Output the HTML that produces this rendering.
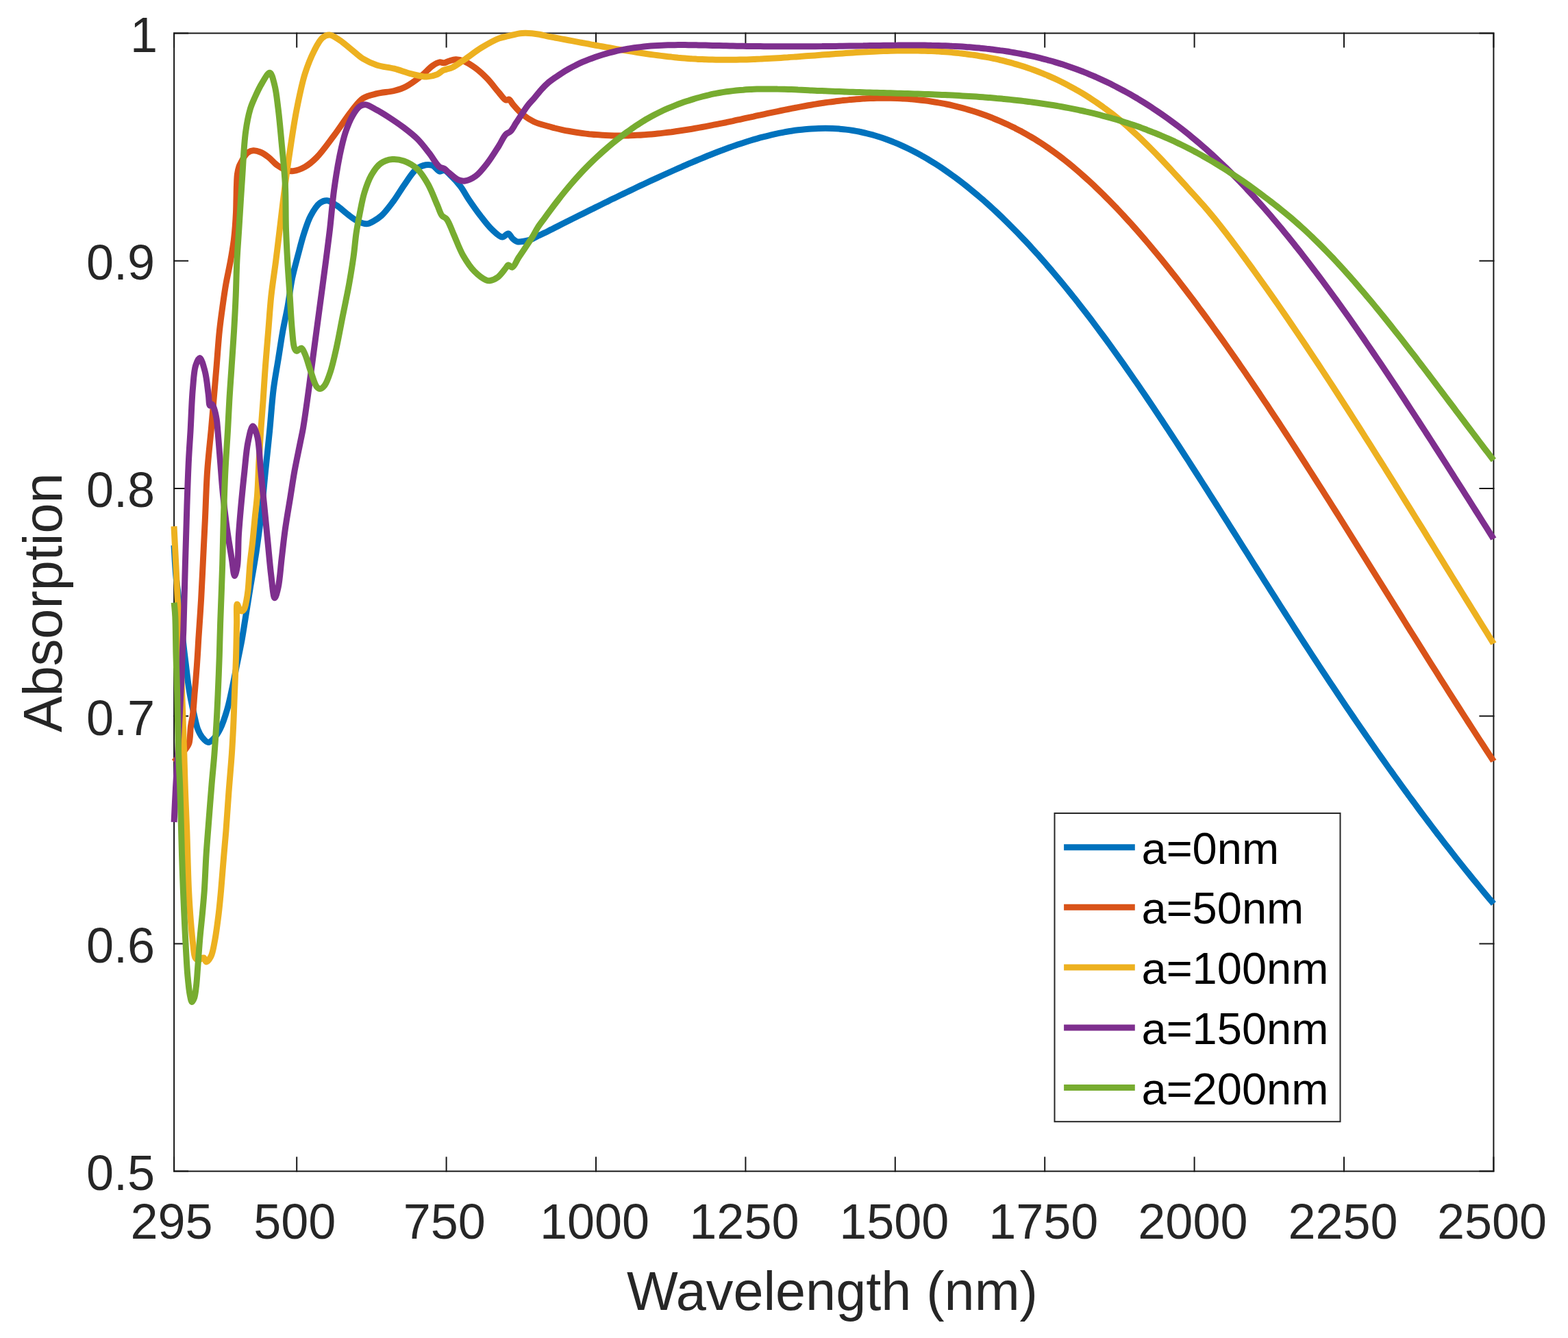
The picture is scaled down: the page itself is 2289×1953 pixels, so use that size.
<!DOCTYPE html>
<html><head><meta charset="utf-8"><title>Absorption vs Wavelength</title>
<style>html,body{margin:0;padding:0;background:#fff;}svg{display:block;}</style></head><body>
<svg xmlns="http://www.w3.org/2000/svg" width="2289" height="1953" viewBox="0 0 2289 1953">
<rect x="0" y="0" width="2289" height="1953" fill="#ffffff"/>
<g fill="none" stroke="#181818" stroke-width="2" stroke-linecap="square">
<rect x="254.1" y="48.5" width="1926.3" height="1661.1"/>
<path d="M254.1 1709.6V1689.6M254.1 48.5V68.5M433.2 1709.6V1689.6M433.2 48.5V68.5M651.6 1709.6V1689.6M651.6 48.5V68.5M870.0 1709.6V1689.6M870.0 48.5V68.5M1088.4 1709.6V1689.6M1088.4 48.5V68.5M1306.8 1709.6V1689.6M1306.8 48.5V68.5M1525.2 1709.6V1689.6M1525.2 48.5V68.5M1743.6 1709.6V1689.6M1743.6 48.5V68.5M1962.0 1709.6V1689.6M1962.0 48.5V68.5M2180.4 1709.6V1689.6M2180.4 48.5V68.5M254.1 1709.6H274.1M2180.4 1709.6H2160.4M254.1 1377.4H274.1M2180.4 1377.4H2160.4M254.1 1045.2H274.1M2180.4 1045.2H2160.4M254.1 712.9H274.1M2180.4 712.9H2160.4M254.1 380.7H274.1M2180.4 380.7H2160.4M254.1 48.5H274.1M2180.4 48.5H2160.4"/>
</g>
<g font-family="'Liberation Sans', Arial, Helvetica, sans-serif" font-size="72" fill="#262626">
<text x="250.6" y="1807.5" text-anchor="middle">295</text>
<text x="430.2" y="1807.5" text-anchor="middle">500</text>
<text x="648.8" y="1807.5" text-anchor="middle">750</text>
<text x="868.0" y="1807.5" text-anchor="middle">1000</text>
<text x="1086.4" y="1807.5" text-anchor="middle">1250</text>
<text x="1305.3" y="1807.5" text-anchor="middle">1500</text>
<text x="1523.3" y="1807.5" text-anchor="middle">1750</text>
<text x="1741.4" y="1807.5" text-anchor="middle">2000</text>
<text x="1960.5" y="1807.5" text-anchor="middle">2250</text>
<text x="2178.0" y="1807.5" text-anchor="middle">2500</text>
<text x="226.0" y="1736.9" text-anchor="end">0.5</text>
<text x="226.0" y="1404.7" text-anchor="end">0.6</text>
<text x="226.0" y="1072.5" text-anchor="end">0.7</text>
<text x="226.0" y="740.2" text-anchor="end">0.8</text>
<text x="226.0" y="408.0" text-anchor="end">0.9</text>
<text x="230.0" y="75.8" text-anchor="end">1</text>
</g>
<g font-family="'Liberation Sans', Arial, Helvetica, sans-serif" font-size="79.2" fill="#262626">
<text x="1215" y="1912" text-anchor="middle">Wavelength (nm)</text>
<text transform="translate(90.1 879.8) rotate(-90)" text-anchor="middle">Absorption</text>
</g>
<g fill="none" stroke-width="9" stroke-linejoin="round" stroke-linecap="butt">
<path stroke="#0072BD" d="M254.0 796.0C254.9 810.7 255.6 827.3 256.8 840.0C257.7 849.8 259.0 856.7 260.0 866.0C261.2 876.6 262.2 887.9 263.5 900.0C265.0 914.0 266.9 932.5 268.3 945.0C269.3 953.9 270.0 959.3 271.1 968.0C272.5 979.4 274.1 994.9 276.2 1007.5C278.1 1019.3 280.7 1031.3 283.0 1041.4C284.9 1049.7 286.2 1057.7 288.6 1064.0C290.5 1068.9 292.6 1073.1 295.4 1076.5C297.9 1079.5 301.1 1083.4 304.0 1083.5C306.8 1083.6 309.8 1080.3 312.4 1077.6C315.7 1074.2 318.6 1069.6 321.4 1064.0C325.2 1056.5 328.7 1045.6 331.6 1035.7C334.8 1025.0 337.0 1013.1 339.5 1001.8C341.9 990.5 344.0 979.2 346.3 967.9C348.6 956.6 351.0 945.2 353.1 933.9C355.1 922.6 356.7 911.9 358.6 900.0C360.8 886.7 363.0 872.4 365.4 857.6C368.1 841.4 371.3 823.7 373.9 806.7C376.4 789.8 378.6 774.0 380.7 755.8C383.2 734.8 385.3 709.6 387.5 687.9C389.5 667.8 391.6 649.7 393.5 630.0C395.5 609.6 396.9 586.4 399.3 567.6C401.3 552.0 403.8 539.3 406.1 525.1C408.4 511.0 410.5 496.0 412.9 482.7C415.1 470.7 417.5 460.8 419.7 448.8C422.1 435.5 423.8 419.7 426.5 406.4C429.0 394.4 432.1 383.6 435.0 372.4C437.9 361.5 440.7 350.0 444.0 340.0C447.0 331.0 449.5 322.4 453.6 314.9C457.4 307.9 462.4 299.7 467.2 296.2C470.5 293.8 473.8 292.5 477.4 292.8C481.7 293.1 486.4 296.6 491.0 299.6C496.5 303.1 502.6 309.2 508.0 313.2C512.7 316.7 516.8 320.2 521.5 322.5C525.8 324.6 530.9 326.9 535.0 326.8C538.6 326.7 541.6 324.8 545.0 323.0C548.9 320.9 552.9 318.4 557.0 314.7C562.5 309.7 568.4 301.6 573.9 294.3C579.8 286.4 585.1 276.9 590.9 268.8C596.4 261.1 601.9 251.5 607.9 246.8C612.3 243.4 617.2 241.5 621.5 240.8C625.0 240.2 628.4 240.4 631.6 241.7C635.2 243.2 638.6 249.5 641.8 250.2C644.2 250.7 646.2 248.0 648.6 248.5C651.8 249.2 655.3 253.6 658.8 257.0C663.2 261.2 668.2 266.7 672.4 272.2C676.7 277.9 679.8 284.4 684.2 290.9C689.3 298.4 695.4 307.2 701.2 314.7C706.7 321.8 712.3 329.5 718.2 335.0C723.1 339.6 729.0 345.9 733.4 346.1C736.6 346.2 739.4 340.6 741.9 341.0C744.5 341.4 746.3 346.6 748.7 348.6C750.8 350.4 752.9 352.2 755.5 352.8C758.5 353.5 762.2 352.6 765.7 352.0C769.5 351.3 774.2 350.0 777.6 348.6C780.4 347.4 782.3 345.9 785.0 344.5C788.1 343.0 791.7 341.5 795.0 339.9C798.3 338.3 801.7 336.5 805.0 334.9C808.3 333.2 811.7 331.5 815.0 329.9C818.3 328.2 821.7 326.5 825.0 324.8C828.3 323.2 831.7 321.5 835.0 319.8C838.3 318.2 841.7 316.5 845.0 314.8C848.3 313.2 851.7 311.5 855.0 309.9C858.3 308.2 861.7 306.5 865.0 304.9C868.3 303.2 871.7 301.6 875.0 299.9C878.3 298.3 881.7 296.7 885.0 295.0C888.3 293.4 891.7 291.8 895.0 290.1C898.3 288.5 901.7 286.9 905.0 285.3C908.3 283.7 911.7 282.1 915.0 280.5C918.3 278.9 921.7 277.3 925.0 275.7C928.3 274.1 931.7 272.5 935.0 270.9C938.3 269.4 941.7 267.8 945.0 266.2C948.3 264.7 951.7 263.1 955.0 261.6C958.3 260.1 961.7 258.5 965.0 257.0C968.3 255.5 971.7 254.0 975.0 252.5C978.3 251.0 981.7 249.5 985.0 248.0C988.3 246.5 991.7 245.0 995.0 243.6C998.3 242.1 1001.7 240.7 1005.0 239.2C1008.3 237.8 1011.7 236.4 1015.0 235.0C1018.3 233.6 1021.7 232.2 1025.0 230.8C1028.3 229.4 1031.7 228.1 1035.0 226.7C1038.3 225.4 1041.7 224.1 1045.0 222.8C1048.3 221.5 1051.7 220.2 1055.0 219.0C1058.3 217.7 1061.7 216.5 1065.0 215.3C1068.3 214.1 1071.7 212.9 1075.0 211.8C1078.3 210.7 1081.7 209.5 1085.0 208.5C1088.3 207.4 1091.7 206.3 1095.0 205.3C1098.3 204.3 1101.7 203.3 1105.0 202.4C1108.3 201.4 1111.7 200.5 1115.0 199.7C1118.3 198.8 1121.7 198.0 1125.0 197.2C1128.3 196.4 1131.7 195.6 1135.0 194.9C1138.3 194.2 1141.7 193.6 1145.0 192.9C1148.3 192.3 1151.7 191.8 1155.0 191.2C1158.3 190.7 1161.7 190.2 1165.0 189.8C1168.3 189.4 1171.7 189.0 1175.0 188.7C1178.3 188.4 1181.7 188.1 1185.0 187.9C1188.3 187.7 1191.7 187.5 1195.0 187.4C1198.3 187.3 1201.7 187.3 1205.0 187.3C1208.3 187.3 1211.7 187.4 1215.0 187.5C1218.3 187.7 1221.7 187.9 1225.0 188.1C1228.3 188.4 1231.7 188.7 1235.0 189.1C1238.3 189.5 1241.7 190.0 1245.0 190.5C1248.3 191.1 1251.7 191.7 1255.0 192.3C1258.3 193.0 1261.7 193.7 1265.0 194.6C1268.3 195.4 1271.7 196.3 1275.0 197.2C1278.3 198.2 1281.7 199.2 1285.0 200.3C1288.3 201.3 1291.7 202.5 1295.0 203.7C1298.3 204.9 1301.7 206.2 1305.0 207.6C1308.3 208.9 1311.7 210.3 1315.0 211.8C1318.3 213.3 1321.7 214.9 1325.0 216.5C1328.3 218.1 1331.7 219.8 1335.0 221.5C1338.3 223.2 1341.7 225.0 1345.0 226.9C1348.3 228.8 1351.7 230.7 1355.0 232.7C1358.3 234.7 1361.7 236.7 1365.0 238.8C1368.3 240.9 1371.7 243.1 1375.0 245.3C1378.3 247.6 1381.7 249.9 1385.0 252.2C1388.3 254.6 1391.7 257.0 1395.0 259.4C1398.3 261.9 1401.7 264.4 1405.0 267.0C1408.3 269.6 1411.7 272.2 1415.0 274.9C1418.3 277.6 1421.7 280.4 1425.0 283.2C1428.3 286.0 1431.7 288.8 1435.0 291.7C1438.3 294.7 1441.7 297.6 1445.0 300.6C1448.3 303.7 1451.7 306.8 1455.0 309.9C1458.3 313.0 1461.7 316.2 1465.0 319.4C1468.3 322.6 1471.7 325.9 1475.0 329.3C1478.3 332.6 1481.7 336.0 1485.0 339.4C1488.3 342.9 1491.7 346.3 1495.0 349.9C1498.3 353.4 1501.7 357.0 1505.0 360.6C1508.3 364.2 1511.7 367.9 1515.0 371.6C1518.3 375.4 1521.7 379.1 1525.0 382.9C1528.3 386.8 1531.7 390.6 1535.0 394.5C1538.3 398.4 1541.7 402.4 1545.0 406.4C1548.3 410.4 1551.7 414.4 1555.0 418.5C1558.3 422.6 1561.7 426.7 1565.0 430.8C1568.3 435.0 1571.7 439.2 1575.0 443.5C1578.3 447.7 1581.7 452.0 1585.0 456.3C1588.3 460.7 1591.7 465.0 1595.0 469.4C1598.3 473.9 1601.7 478.3 1605.0 482.8C1608.3 487.3 1611.7 491.8 1615.0 496.3C1618.3 500.9 1621.7 505.5 1625.0 510.1C1628.3 514.8 1631.7 519.4 1635.0 524.1C1638.3 528.8 1641.7 533.6 1645.0 538.3C1648.3 543.1 1651.7 547.9 1655.0 552.7C1658.3 557.5 1661.7 562.3 1665.0 567.2C1668.3 572.1 1671.7 577.0 1675.0 581.9C1678.3 586.8 1681.7 591.8 1685.0 596.8C1688.3 601.7 1691.7 606.7 1695.0 611.8C1698.3 616.8 1701.7 621.8 1705.0 626.9C1708.3 632.0 1711.7 637.0 1715.0 642.1C1718.3 647.2 1721.7 652.4 1725.0 657.5C1728.3 662.6 1731.7 667.8 1735.0 672.9C1738.3 678.1 1741.7 683.3 1745.0 688.5C1748.3 693.7 1751.7 698.9 1755.0 704.1C1758.3 709.3 1761.7 714.5 1765.0 719.8C1768.3 725.0 1771.7 730.2 1775.0 735.5C1778.3 740.8 1781.7 746.0 1785.0 751.3C1788.3 756.5 1791.7 761.8 1795.0 767.1C1798.3 772.4 1801.7 777.6 1805.0 782.9C1808.3 788.2 1811.7 793.5 1815.0 798.8C1818.3 804.1 1821.7 809.3 1825.0 814.6C1828.3 819.9 1831.7 825.2 1835.0 830.5C1838.3 835.7 1841.7 841.0 1845.0 846.3C1848.3 851.6 1851.7 856.8 1855.0 862.1C1858.3 867.3 1861.7 872.6 1865.0 877.8C1868.3 883.1 1871.7 888.3 1875.0 893.5C1878.3 898.7 1881.7 904.0 1885.0 909.2C1888.3 914.4 1891.7 919.5 1895.0 924.7C1898.3 929.9 1901.7 935.1 1905.0 940.2C1908.3 945.3 1911.7 950.5 1915.0 955.6C1918.3 960.7 1921.7 965.8 1925.0 970.9C1928.3 975.9 1931.7 981.0 1935.0 986.0C1938.3 991.1 1941.7 996.1 1945.0 1001.1C1948.3 1006.1 1951.7 1011.1 1955.0 1016.1C1958.3 1021.0 1961.7 1026.0 1965.0 1030.9C1968.3 1035.8 1971.7 1040.7 1975.0 1045.6C1978.3 1050.5 1981.7 1055.4 1985.0 1060.3C1988.3 1065.1 1991.7 1069.9 1995.0 1074.8C1998.3 1079.6 2001.7 1084.4 2005.0 1089.1C2008.3 1093.9 2011.7 1098.6 2015.0 1103.4C2018.3 1108.1 2021.7 1112.8 2025.0 1117.5C2028.3 1122.2 2031.7 1126.9 2035.0 1131.5C2038.3 1136.1 2041.7 1140.8 2045.0 1145.4C2048.3 1150.0 2051.7 1154.6 2055.0 1159.1C2058.3 1163.7 2061.7 1168.2 2065.0 1172.7C2068.3 1177.2 2071.7 1181.7 2075.0 1186.2C2078.3 1190.6 2081.7 1195.1 2085.0 1199.5C2088.3 1203.9 2091.7 1208.3 2095.0 1212.7C2098.3 1217.1 2101.7 1221.4 2105.0 1225.7C2108.3 1230.0 2111.7 1234.3 2115.0 1238.6C2118.3 1242.9 2121.7 1247.1 2125.0 1251.4C2128.3 1255.6 2131.7 1259.8 2135.0 1264.0C2138.3 1268.1 2141.7 1272.3 2145.0 1276.4C2148.3 1280.5 2151.7 1284.6 2155.0 1288.7C2158.3 1292.7 2161.7 1296.8 2165.0 1300.8C2168.3 1304.8 2172.2 1309.4 2175.0 1312.8C2177.1 1315.2 2178.6 1317.0 2180.4 1319.2"/>
<path stroke="#D95319" d="M254.0 1112.0C257.7 1108.3 262.0 1104.3 265.0 1101.0C267.2 1098.5 268.8 1096.5 270.5 1094.0C272.4 1091.2 274.6 1088.9 275.9 1085.0C277.9 1078.9 277.5 1067.6 278.5 1060.0C279.4 1053.6 280.7 1049.1 281.5 1042.5C282.6 1034.0 283.2 1022.6 284.0 1013.0C284.8 1003.8 285.6 995.3 286.3 986.0C287.1 976.0 287.9 964.8 288.5 955.0C289.1 946.1 289.4 938.3 290.0 929.5C290.6 920.0 291.4 909.6 292.0 900.0C292.6 890.8 293.1 883.6 293.7 873.0C294.6 857.6 295.6 835.3 296.5 816.5C297.4 797.7 298.3 780.0 299.3 760.0C300.4 737.4 301.0 711.1 302.6 687.9C304.1 666.2 306.8 643.7 308.5 625.0C309.8 610.0 310.7 598.8 311.9 584.5C313.2 568.5 314.8 550.6 316.2 533.6C317.6 516.6 318.8 497.9 320.4 482.7C321.7 470.2 323.1 460.1 324.7 448.8C326.3 437.5 327.8 426.1 329.8 414.8C331.8 403.5 334.5 392.0 336.5 380.9C338.4 370.4 340.2 359.2 341.4 350.0C342.3 342.6 342.8 336.7 343.3 330.0C343.8 323.3 344.2 316.7 344.5 310.0C344.8 303.3 344.8 296.7 345.0 290.0C345.2 283.3 345.2 276.3 345.5 270.0C345.7 264.4 345.8 258.8 346.5 254.0C347.1 250.0 347.9 246.2 349.0 243.0C350.0 240.3 351.2 238.4 352.5 236.0C353.9 233.4 355.3 230.3 357.0 228.0C358.5 225.9 359.9 223.9 362.0 222.5C364.2 221.1 367.0 220.0 369.8 219.8C372.9 219.6 376.6 220.6 380.0 222.0C384.0 223.6 388.1 226.5 392.0 229.5C396.4 232.8 400.3 238.1 405.0 241.4C409.6 244.6 415.4 247.8 419.7 249.0C422.8 249.9 424.9 250.0 428.2 249.6C432.9 249.0 439.7 246.6 445.1 243.6C451.0 240.3 456.2 235.9 462.1 230.0C470.2 221.9 479.2 208.9 487.6 197.8C496.2 186.3 505.1 172.0 513.0 162.2C519.0 154.8 523.5 147.8 530.0 143.5C536.0 139.6 542.8 138.5 550.0 136.7C557.9 134.7 567.9 134.4 575.5 132.5C581.8 130.9 586.6 129.5 592.4 126.5C599.5 122.9 607.8 116.6 614.5 111.3C620.7 106.4 626.4 99.5 631.5 96.0C635.1 93.5 638.5 91.4 641.6 90.9C644.0 90.5 646.2 92.1 648.4 91.8C650.7 91.5 652.7 90.0 655.2 89.2C658.2 88.3 661.9 86.8 665.4 86.7C669.2 86.6 673.1 87.6 677.3 89.2C682.6 91.3 688.7 95.4 694.2 99.4C700.1 103.8 705.7 109.0 711.2 114.7C717.1 120.8 723.2 129.3 728.2 135.0C732.0 139.3 735.3 144.9 738.4 146.0C740.2 146.6 741.9 144.6 743.4 145.2C745.4 146.0 746.3 149.4 748.5 152.0C751.9 156.0 757.0 162.2 762.1 166.4C767.2 170.7 772.9 174.5 779.1 177.5C785.5 180.6 794.3 182.6 800.0 184.3C803.9 185.5 806.7 186.1 810.0 187.0C813.3 187.8 816.7 188.6 820.0 189.3C823.3 190.0 826.7 190.7 830.0 191.3C833.3 191.9 836.7 192.5 840.0 193.0C843.3 193.6 846.7 194.1 850.0 194.5C853.3 194.9 856.7 195.3 860.0 195.7C863.3 196.0 866.7 196.4 870.0 196.6C873.3 196.9 876.7 197.1 880.0 197.3C883.3 197.5 886.7 197.6 890.0 197.7C893.3 197.9 896.7 197.9 900.0 198.0C903.3 198.0 906.7 198.0 910.0 198.0C913.3 197.9 916.7 197.9 920.0 197.7C923.3 197.6 926.7 197.5 930.0 197.3C933.3 197.2 936.7 197.0 940.0 196.7C943.3 196.5 946.7 196.3 950.0 196.0C953.3 195.7 956.7 195.4 960.0 195.0C963.3 194.7 966.7 194.3 970.0 193.9C973.3 193.5 976.7 193.1 980.0 192.7C983.3 192.2 986.7 191.8 990.0 191.3C993.3 190.8 996.7 190.3 1000.0 189.8C1003.3 189.3 1006.7 188.7 1010.0 188.2C1013.3 187.6 1016.7 187.0 1020.0 186.4C1023.3 185.8 1026.7 185.2 1030.0 184.6C1033.3 184.0 1036.7 183.3 1040.0 182.7C1043.3 182.0 1046.7 181.4 1050.0 180.7C1053.3 180.0 1056.7 179.3 1060.0 178.7C1063.3 178.0 1066.7 177.3 1070.0 176.6C1073.3 175.8 1076.7 175.1 1080.0 174.4C1083.3 173.7 1086.7 173.0 1090.0 172.2C1093.3 171.5 1096.7 170.8 1100.0 170.1C1103.3 169.3 1106.7 168.6 1110.0 167.9C1113.3 167.2 1116.7 166.4 1120.0 165.7C1123.3 165.0 1126.7 164.3 1130.0 163.6C1133.3 162.9 1136.7 162.2 1140.0 161.5C1143.3 160.8 1146.7 160.1 1150.0 159.5C1153.3 158.8 1156.7 158.1 1160.0 157.5C1163.3 156.8 1166.7 156.2 1170.0 155.6C1173.3 155.0 1176.7 154.4 1180.0 153.8C1183.3 153.2 1186.7 152.7 1190.0 152.1C1193.3 151.6 1196.7 151.0 1200.0 150.5C1203.3 150.0 1206.7 149.6 1210.0 149.1C1213.3 148.6 1216.7 148.2 1220.0 147.8C1223.3 147.4 1226.7 147.0 1230.0 146.6C1233.3 146.3 1236.7 146.0 1240.0 145.6C1243.3 145.3 1246.7 145.1 1250.0 144.8C1253.3 144.6 1256.7 144.3 1260.0 144.1C1263.3 143.9 1266.7 143.8 1270.0 143.6C1273.3 143.5 1276.7 143.4 1280.0 143.3C1283.3 143.3 1286.7 143.2 1290.0 143.2C1293.3 143.2 1296.7 143.2 1300.0 143.3C1303.3 143.3 1306.7 143.4 1310.0 143.5C1313.3 143.7 1316.7 143.8 1320.0 144.0C1323.3 144.2 1326.7 144.5 1330.0 144.7C1333.3 145.0 1336.7 145.3 1340.0 145.7C1343.3 146.0 1346.7 146.4 1350.0 146.8C1353.3 147.2 1356.7 147.7 1360.0 148.2C1363.3 148.7 1366.7 149.3 1370.0 149.9C1373.3 150.4 1376.7 151.1 1380.0 151.7C1383.3 152.4 1386.7 153.1 1390.0 153.9C1393.3 154.7 1396.7 155.5 1400.0 156.3C1403.3 157.2 1406.7 158.1 1410.0 159.0C1413.3 160.0 1416.7 160.9 1420.0 162.0C1423.3 163.0 1426.7 164.1 1430.0 165.2C1433.3 166.4 1436.7 167.6 1440.0 168.8C1443.3 170.0 1446.7 171.3 1450.0 172.7C1453.3 174.0 1456.7 175.4 1460.0 176.8C1463.3 178.3 1466.7 179.8 1470.0 181.3C1473.3 182.9 1476.7 184.5 1480.0 186.1C1483.3 187.8 1486.7 189.5 1490.0 191.3C1493.3 193.1 1496.7 194.9 1500.0 196.8C1503.3 198.8 1506.7 200.7 1510.0 202.7C1513.3 204.8 1516.7 206.9 1520.0 209.0C1523.3 211.2 1526.7 213.5 1530.0 215.8C1533.3 218.1 1536.7 220.4 1540.0 222.9C1543.3 225.3 1546.7 227.8 1550.0 230.4C1553.3 233.0 1556.7 235.6 1560.0 238.3C1563.3 241.0 1566.7 243.8 1570.0 246.6C1573.3 249.4 1576.7 252.3 1580.0 255.3C1583.3 258.2 1586.7 261.2 1590.0 264.3C1593.3 267.4 1596.7 270.5 1600.0 273.7C1603.3 276.8 1606.7 280.1 1610.0 283.4C1613.3 286.7 1616.7 290.0 1620.0 293.4C1623.3 296.8 1626.7 300.2 1630.0 303.7C1633.3 307.2 1636.7 310.8 1640.0 314.4C1643.3 318.0 1646.7 321.6 1650.0 325.3C1653.3 329.0 1656.7 332.7 1660.0 336.5C1663.3 340.3 1666.7 344.2 1670.0 348.0C1673.3 351.9 1676.7 355.8 1680.0 359.8C1683.3 363.8 1686.7 367.8 1690.0 371.8C1693.3 375.9 1696.7 380.0 1700.0 384.1C1703.3 388.2 1706.7 392.4 1710.0 396.6C1713.3 400.8 1716.7 405.0 1720.0 409.3C1723.3 413.6 1726.7 417.9 1730.0 422.3C1733.3 426.6 1736.7 431.0 1740.0 435.4C1743.3 439.8 1746.7 444.3 1750.0 448.8C1753.3 453.3 1756.7 457.8 1760.0 462.3C1763.3 466.9 1766.7 471.4 1770.0 476.0C1773.3 480.7 1776.7 485.3 1780.0 489.9C1783.3 494.6 1786.7 499.3 1790.0 504.0C1793.3 508.7 1796.7 513.5 1800.0 518.3C1803.3 523.0 1806.7 527.8 1810.0 532.7C1813.3 537.5 1816.7 542.3 1820.0 547.2C1823.3 552.1 1826.7 557.0 1830.0 561.9C1833.3 566.8 1836.7 571.7 1840.0 576.7C1843.3 581.7 1846.7 586.6 1850.0 591.6C1853.3 596.6 1856.7 601.7 1860.0 606.7C1863.3 611.7 1866.7 616.8 1870.0 621.9C1873.3 627.0 1876.7 632.0 1880.0 637.2C1883.3 642.3 1886.7 647.4 1890.0 652.5C1893.3 657.7 1896.7 662.8 1900.0 668.0C1903.3 673.2 1906.7 678.4 1910.0 683.6C1913.3 688.8 1916.7 694.0 1920.0 699.2C1923.3 704.4 1926.7 709.7 1930.0 714.9C1933.3 720.2 1936.7 725.4 1940.0 730.7C1943.3 736.0 1946.7 741.2 1950.0 746.5C1953.3 751.8 1956.7 757.1 1960.0 762.4C1963.3 767.7 1966.7 773.0 1970.0 778.3C1973.3 783.6 1976.7 789.0 1980.0 794.3C1983.3 799.6 1986.7 805.0 1990.0 810.3C1993.3 815.6 1996.7 821.0 2000.0 826.3C2003.3 831.6 2006.7 837.0 2010.0 842.3C2013.3 847.7 2016.7 853.0 2020.0 858.4C2023.3 863.7 2026.7 869.1 2030.0 874.4C2033.3 879.7 2036.7 885.1 2040.0 890.4C2043.3 895.8 2046.7 901.1 2050.0 906.5C2053.3 911.8 2056.7 917.1 2060.0 922.5C2063.3 927.8 2066.7 933.1 2070.0 938.4C2073.3 943.7 2076.7 949.1 2080.0 954.4C2083.3 959.7 2086.7 965.0 2090.0 970.3C2093.3 975.6 2096.7 980.8 2100.0 986.1C2103.3 991.4 2106.7 996.7 2110.0 1001.9C2113.3 1007.2 2116.7 1012.4 2120.0 1017.7C2123.3 1022.9 2126.7 1028.1 2130.0 1033.3C2133.3 1038.5 2136.7 1043.7 2140.0 1048.9C2143.3 1054.1 2146.7 1059.3 2150.0 1064.4C2153.3 1069.6 2156.7 1074.7 2160.0 1079.9C2163.3 1085.0 2166.7 1090.1 2170.0 1095.2C2173.3 1100.3 2178.9 1108.7 2180.0 1110.4C2180.2 1110.7 2180.3 1110.8 2180.4 1111.0"/>
<path stroke="#EDB120" d="M254.0 768.2C254.9 786.7 255.9 805.5 256.8 823.6C257.7 840.9 258.3 860.4 259.3 874.5C260.0 884.5 260.8 888.9 261.5 900.0C262.8 920.9 263.7 958.9 264.9 990.5C266.2 1025.3 267.8 1069.5 268.8 1100.0C269.5 1122.0 269.8 1137.7 270.5 1156.6C271.2 1175.4 272.0 1192.2 272.8 1213.1C273.7 1239.0 274.4 1275.7 275.6 1300.0C276.4 1317.5 277.4 1331.2 278.5 1345.2C279.5 1357.3 280.6 1369.5 281.9 1379.2C282.9 1386.5 282.9 1394.9 285.2 1398.4C286.4 1400.3 288.3 1401.5 289.8 1401.5C291.2 1401.5 292.6 1399.6 294.0 1399.0C295.2 1398.5 296.5 1397.6 297.5 1398.0C298.9 1398.6 299.6 1403.9 301.1 1404.0C302.9 1404.2 306.0 1399.8 307.9 1396.2C310.7 1390.8 311.8 1382.2 313.5 1373.5C315.7 1362.2 317.6 1346.6 319.2 1333.9C320.6 1322.2 321.5 1311.9 322.6 1300.0C323.8 1286.8 324.8 1272.6 326.0 1258.4C327.2 1243.6 328.6 1229.0 329.9 1213.1C331.3 1195.3 332.5 1175.4 333.9 1156.6C335.3 1137.7 337.2 1117.4 338.4 1100.0C339.4 1085.1 340.0 1072.6 340.7 1058.4C341.4 1043.6 341.8 1029.0 342.4 1013.1C343.1 995.3 344.1 974.5 344.6 956.6C345.1 940.3 345.3 923.6 345.6 910.0C345.8 899.5 344.8 882.3 346.2 882.0C347.0 881.8 348.2 887.3 349.5 889.0C350.5 890.3 351.8 892.0 353.0 892.0C354.2 892.0 355.5 890.5 356.5 889.0C358.0 886.6 358.6 882.0 359.5 878.0C360.5 873.2 361.2 868.6 362.0 862.0C363.2 851.3 363.9 832.8 365.2 820.0C366.3 809.1 367.7 800.4 368.8 790.0C370.0 778.8 371.1 766.5 372.2 755.0C373.3 743.8 374.7 734.1 375.6 721.8C376.7 706.7 377.2 687.4 378.1 670.9C379.0 655.2 380.0 639.8 381.0 625.0C382.0 611.1 383.1 598.8 384.1 584.5C385.2 568.5 386.2 550.6 387.5 533.6C388.8 516.6 390.3 499.7 391.7 482.7C393.1 465.7 394.1 448.7 395.9 431.8C397.7 414.8 400.6 397.4 402.7 380.9C404.7 365.2 406.3 351.7 408.3 335.0C410.7 315.0 413.5 290.4 416.3 269.0C419.0 248.7 421.9 228.7 424.8 209.7C427.5 192.1 429.9 175.7 433.3 158.8C436.7 141.8 440.4 123.0 445.1 107.9C449.1 95.3 453.9 83.4 458.7 74.0C462.5 66.6 466.1 59.1 470.6 55.3C473.8 52.6 477.1 50.9 480.8 51.0C485.4 51.2 491.0 55.5 496.0 58.7C501.7 62.4 507.3 67.7 513.0 72.2C518.7 76.7 523.9 82.0 530.0 85.8C536.2 89.6 542.8 92.6 550.0 95.0C557.8 97.6 567.1 98.1 575.5 100.2C584.0 102.4 592.7 105.9 600.9 107.9C608.5 109.8 616.3 112.2 623.0 112.1C628.5 112.0 634.0 110.5 638.2 108.7C641.6 107.2 644.1 104.1 646.7 102.8C648.5 101.9 649.9 101.7 651.8 101.1C654.3 100.3 657.1 100.0 660.3 98.5C665.1 96.3 671.1 91.7 677.3 87.5C685.0 82.3 694.1 75.0 702.7 69.7C711.0 64.6 720.9 58.9 728.2 56.1C733.3 54.1 736.8 53.8 741.8 52.7C747.9 51.3 754.9 49.0 762.1 48.5C770.1 48.0 780.7 49.1 787.6 50.2C792.5 51.0 796.1 52.4 800.0 53.2C803.5 54.0 806.7 54.4 810.0 55.0C813.3 55.6 816.7 56.3 820.0 56.9C823.3 57.5 826.7 58.1 830.0 58.7C833.3 59.3 836.7 60.0 840.0 60.6C843.3 61.2 846.7 61.8 850.0 62.5C853.3 63.1 856.7 63.7 860.0 64.3C863.3 65.0 866.7 65.6 870.0 66.2C873.3 66.8 876.7 67.4 880.0 68.0C883.3 68.6 886.7 69.2 890.0 69.8C893.3 70.4 896.7 71.0 900.0 71.6C903.3 72.2 906.7 72.7 910.0 73.3C913.3 73.8 916.7 74.4 920.0 74.9C923.3 75.5 926.7 76.0 930.0 76.5C933.3 77.0 936.7 77.5 940.0 78.0C943.3 78.5 946.7 79.0 950.0 79.5C953.3 79.9 956.7 80.4 960.0 80.8C963.3 81.2 966.7 81.6 970.0 82.0C973.3 82.4 976.7 82.8 980.0 83.1C983.3 83.5 986.7 83.8 990.0 84.2C993.3 84.5 996.7 84.8 1000.0 85.0C1003.3 85.3 1006.7 85.5 1010.0 85.8C1013.3 86.0 1016.7 86.2 1020.0 86.4C1023.3 86.5 1026.7 86.7 1030.0 86.8C1033.3 86.9 1036.7 87.0 1040.0 87.1C1043.3 87.2 1046.7 87.2 1050.0 87.3C1053.3 87.3 1056.7 87.3 1060.0 87.3C1063.3 87.3 1066.7 87.3 1070.0 87.3C1073.3 87.2 1076.7 87.2 1080.0 87.1C1083.3 87.1 1086.7 87.0 1090.0 86.9C1093.3 86.8 1096.7 86.6 1100.0 86.5C1103.3 86.4 1106.7 86.2 1110.0 86.1C1113.3 85.9 1116.7 85.8 1120.0 85.6C1123.3 85.4 1126.7 85.2 1130.0 85.0C1133.3 84.8 1136.7 84.6 1140.0 84.4C1143.3 84.2 1146.7 84.0 1150.0 83.8C1153.3 83.5 1156.7 83.3 1160.0 83.1C1163.3 82.8 1166.7 82.6 1170.0 82.3C1173.3 82.1 1176.7 81.9 1180.0 81.6C1183.3 81.4 1186.7 81.1 1190.0 80.9C1193.3 80.6 1196.7 80.4 1200.0 80.1C1203.3 79.8 1206.7 79.6 1210.0 79.4C1213.3 79.1 1216.7 78.9 1220.0 78.6C1223.3 78.4 1226.7 78.1 1230.0 77.9C1233.3 77.7 1236.7 77.4 1240.0 77.2C1243.3 77.0 1246.7 76.8 1250.0 76.6C1253.3 76.4 1256.7 76.2 1260.0 76.0C1263.3 75.8 1266.7 75.6 1270.0 75.5C1273.3 75.3 1276.7 75.1 1280.0 75.0C1283.3 74.8 1286.7 74.7 1290.0 74.6C1293.3 74.5 1296.7 74.4 1300.0 74.3C1303.3 74.2 1306.7 74.1 1310.0 74.1C1313.3 74.0 1316.7 74.0 1320.0 73.9C1323.3 73.9 1326.7 73.9 1330.0 73.9C1333.3 74.0 1336.7 74.0 1340.0 74.0C1343.3 74.1 1346.7 74.2 1350.0 74.3C1353.3 74.4 1356.7 74.5 1360.0 74.6C1363.3 74.8 1366.7 74.9 1370.0 75.1C1373.3 75.3 1376.7 75.6 1380.0 75.8C1383.3 76.0 1386.7 76.3 1390.0 76.6C1393.3 76.9 1396.7 77.2 1400.0 77.6C1403.3 78.0 1406.7 78.3 1410.0 78.8C1413.3 79.2 1416.7 79.6 1420.0 80.1C1423.3 80.6 1426.7 81.1 1430.0 81.7C1433.3 82.2 1436.7 82.8 1440.0 83.4C1443.3 84.0 1446.7 84.7 1450.0 85.4C1453.3 86.1 1456.7 86.8 1460.0 87.6C1463.3 88.4 1466.7 89.2 1470.0 90.1C1473.3 90.9 1476.7 91.8 1480.0 92.8C1483.3 93.7 1486.7 94.7 1490.0 95.7C1493.3 96.8 1496.7 97.9 1500.0 99.0C1503.3 100.1 1506.7 101.3 1510.0 102.5C1513.3 103.7 1516.7 105.0 1520.0 106.4C1523.3 107.7 1526.7 109.1 1530.0 110.5C1533.3 111.9 1536.7 113.4 1540.0 114.9C1543.3 116.5 1546.7 118.1 1550.0 119.7C1553.3 121.4 1556.7 123.1 1560.0 124.9C1563.3 126.6 1566.7 128.5 1570.0 130.4C1573.3 132.3 1576.7 134.2 1580.0 136.2C1583.3 138.2 1586.7 140.3 1590.0 142.4C1593.3 144.6 1596.7 146.8 1600.0 149.0C1603.3 151.3 1606.7 153.7 1610.0 156.0C1613.3 158.5 1616.7 160.9 1620.0 163.5C1623.4 166.0 1626.7 168.6 1630.0 171.3C1633.4 174.0 1636.7 176.7 1640.0 179.6C1643.4 182.4 1646.7 185.3 1650.0 188.3C1653.4 191.3 1656.7 194.3 1660.0 197.4C1663.4 200.5 1666.7 203.7 1670.0 207.0C1673.3 210.2 1676.7 213.5 1680.0 216.9C1683.3 220.2 1686.7 223.6 1690.0 227.1C1693.3 230.5 1696.7 234.0 1700.0 237.6C1703.3 241.1 1706.7 244.7 1710.0 248.3C1713.3 251.9 1716.7 255.5 1720.0 259.1C1723.3 262.8 1726.7 266.4 1730.0 270.1C1733.3 273.8 1736.7 277.5 1740.0 281.2C1743.3 284.8 1746.7 288.5 1750.0 292.2C1753.3 296.0 1756.7 299.7 1760.0 303.5C1763.4 307.4 1766.7 311.4 1770.0 315.4C1773.4 319.4 1776.7 323.6 1780.0 327.8C1783.4 332.0 1786.7 336.3 1790.0 340.6C1793.3 344.9 1796.7 349.3 1800.0 353.7C1803.3 358.2 1806.7 362.6 1810.0 367.1C1813.3 371.6 1816.7 376.1 1820.0 380.7C1823.3 385.2 1826.7 389.8 1830.0 394.4C1833.3 399.0 1836.7 403.7 1840.0 408.3C1843.3 413.0 1846.7 417.7 1850.0 422.4C1853.3 427.1 1856.7 431.8 1860.0 436.6C1863.3 441.4 1866.7 446.2 1870.0 451.0C1873.3 455.8 1876.7 460.6 1880.0 465.5C1883.3 470.4 1886.7 475.3 1890.0 480.2C1893.3 485.1 1896.7 490.0 1900.0 495.0C1903.3 499.9 1906.7 504.9 1910.0 509.9C1913.3 514.9 1916.7 519.9 1920.0 524.9C1923.3 530.0 1926.7 535.0 1930.0 540.1C1933.3 545.2 1936.7 550.3 1940.0 555.4C1943.3 560.5 1946.7 565.6 1950.0 570.7C1953.3 575.9 1956.7 581.0 1960.0 586.2C1963.3 591.4 1966.7 596.6 1970.0 601.8C1973.3 607.0 1976.7 612.2 1980.0 617.4C1983.3 622.6 1986.7 627.9 1990.0 633.1C1993.3 638.4 1996.7 643.7 2000.0 648.9C2003.3 654.2 2006.7 659.5 2010.0 664.8C2013.3 670.1 2016.7 675.4 2020.0 680.7C2023.3 686.1 2026.7 691.4 2030.0 696.7C2033.3 702.0 2036.7 707.4 2040.0 712.7C2043.3 718.1 2046.7 723.4 2050.0 728.8C2053.3 734.2 2056.7 739.5 2060.0 744.9C2063.3 750.3 2066.7 755.7 2070.0 761.1C2073.3 766.4 2076.7 771.8 2080.0 777.2C2083.3 782.6 2086.7 788.0 2090.0 793.4C2093.3 798.8 2096.7 804.2 2100.0 809.6C2103.3 815.0 2106.7 820.4 2110.0 825.8C2113.3 831.2 2116.7 836.6 2120.0 842.0C2123.3 847.4 2126.7 852.8 2130.0 858.2C2133.3 863.6 2136.7 868.9 2140.0 874.3C2143.3 879.7 2146.7 885.1 2150.0 890.5C2153.3 895.9 2156.7 901.3 2160.0 906.6C2163.3 912.0 2166.7 917.4 2170.0 922.7C2173.3 928.1 2178.9 937.0 2180.0 938.8C2180.2 939.2 2180.3 939.2 2180.4 939.4"/>
<path stroke="#7E2F8E" d="M254.1 1200.0C254.9 1183.3 255.6 1166.7 256.5 1150.0C257.4 1133.3 258.5 1117.4 259.5 1100.0C260.5 1080.9 261.5 1059.1 262.5 1040.0C263.4 1022.6 264.3 1006.2 265.0 990.0C265.7 974.6 266.1 957.8 266.6 945.0C267.0 935.4 267.4 931.0 267.8 920.0C268.6 898.3 269.5 854.7 270.4 823.6C271.2 794.4 272.0 765.5 272.9 738.8C273.7 714.9 274.5 690.7 275.5 670.9C276.3 655.5 277.1 645.1 278.0 630.0C279.1 611.4 279.8 585.2 281.4 567.6C282.6 554.5 283.0 541.6 285.6 533.6C287.2 528.7 289.6 522.5 291.6 522.6C294.2 522.8 297.2 534.6 299.2 542.1C301.8 551.7 303.0 566.8 304.3 576.0C305.2 582.3 304.8 591.2 306.5 592.0C307.3 592.4 308.6 589.8 309.5 590.0C310.7 590.3 311.6 593.5 312.5 596.0C313.9 600.0 315.3 606.5 316.2 612.0C317.2 617.8 317.3 622.8 318.0 630.0C319.0 640.9 320.1 656.5 321.3 670.9C322.6 686.9 323.8 704.8 325.5 721.8C327.2 738.8 329.3 756.5 331.5 772.7C333.5 787.5 336.2 802.8 338.2 815.1C339.8 824.7 340.9 840.5 342.5 840.6C343.7 840.7 345.5 832.3 346.5 826.0C348.2 815.2 347.5 795.9 348.4 781.2C349.3 766.9 350.5 753.6 351.8 738.8C353.3 722.6 355.1 704.1 356.9 687.9C358.5 673.1 359.5 657.5 362.0 645.5C363.9 636.4 366.5 622.2 369.0 622.0C371.1 621.9 373.8 630.3 375.6 637.0C378.7 648.8 379.0 670.9 380.7 687.9C382.4 704.9 384.1 721.8 385.8 738.8C387.5 755.8 389.1 772.7 390.8 789.7C392.5 806.7 394.0 825.6 395.9 840.6C397.4 852.6 398.9 872.6 401.0 872.8C402.5 872.9 404.7 864.0 406.1 857.6C408.5 847.1 409.5 829.3 411.2 815.1C412.9 801.0 414.3 786.8 416.3 772.7C418.3 758.5 420.8 744.4 423.1 730.3C425.4 716.2 427.4 702.0 429.9 687.9C432.5 673.7 436.1 657.1 438.4 645.5C440.0 637.4 441.1 633.0 442.5 625.0C444.4 613.8 446.5 598.8 448.5 584.5C450.8 568.5 453.0 550.6 455.3 533.6C457.6 516.6 459.8 499.7 462.1 482.7C464.4 465.7 466.6 448.8 468.9 431.8C471.2 414.8 473.6 397.4 475.7 380.9C477.7 365.2 479.6 351.2 481.5 335.0C483.6 316.9 485.1 296.1 487.6 277.6C490.0 260.1 492.9 241.9 496.0 226.7C498.6 214.2 501.1 202.9 504.5 192.7C507.5 184.0 510.8 175.6 514.7 169.0C517.8 163.6 521.3 158.0 525.0 155.4C527.7 153.5 530.2 152.6 533.4 152.8C538.1 153.1 544.5 157.6 550.0 160.5C555.7 163.5 561.0 166.9 567.0 170.7C573.9 175.2 581.9 180.5 589.0 185.9C596.1 191.3 603.2 196.7 609.4 202.9C615.6 209.1 621.0 216.4 626.4 223.3C631.7 230.0 637.1 240.2 641.6 243.6C644.0 245.4 646.2 244.9 648.4 246.2C650.8 247.6 652.5 249.9 655.2 252.1C658.9 255.1 664.4 260.4 668.8 262.3C672.3 263.8 675.3 264.5 679.0 264.0C683.6 263.4 689.3 260.7 694.2 257.2C700.2 252.9 705.8 245.4 711.2 238.5C717.2 230.9 723.3 220.7 728.2 213.0C732.1 206.8 734.9 199.6 738.4 196.1C740.6 193.9 743.0 194.0 745.1 191.9C748.1 189.0 750.3 184.1 753.6 179.1C758.3 172.1 765.6 160.2 770.6 153.7C774.0 149.3 776.8 146.9 780.0 143.1C783.6 138.9 787.7 133.5 791.3 129.6C794.3 126.3 796.9 123.7 800.0 121.0C803.1 118.3 806.6 115.9 810.0 113.5C813.3 111.2 816.6 108.9 820.0 106.8C823.3 104.7 826.6 102.7 830.0 100.8C833.3 98.9 836.6 97.1 840.0 95.5C843.3 93.8 846.6 92.2 850.0 90.7C853.3 89.3 856.7 87.9 860.0 86.6C863.3 85.3 866.7 84.1 870.0 82.9C873.3 81.8 876.7 80.7 880.0 79.7C883.3 78.7 886.7 77.7 890.0 76.9C893.3 76.0 896.7 75.2 900.0 74.4C903.3 73.7 906.7 73.0 910.0 72.4C913.3 71.7 916.7 71.2 920.0 70.6C923.3 70.1 926.7 69.6 930.0 69.2C933.3 68.8 936.7 68.4 940.0 68.0C943.3 67.7 946.7 67.4 950.0 67.1C953.3 66.9 956.7 66.7 960.0 66.5C963.3 66.3 966.7 66.1 970.0 66.0C973.3 65.9 976.7 65.8 980.0 65.7C983.3 65.7 986.7 65.6 990.0 65.6C993.3 65.6 996.7 65.6 1000.0 65.6C1003.3 65.6 1006.7 65.7 1010.0 65.7C1013.3 65.8 1016.7 65.8 1020.0 65.9C1023.3 66.0 1026.7 66.0 1030.0 66.1C1033.3 66.2 1036.7 66.3 1040.0 66.4C1043.3 66.5 1046.7 66.5 1050.0 66.6C1053.3 66.7 1056.7 66.8 1060.0 66.8C1063.3 66.9 1066.7 67.0 1070.0 67.0C1073.3 67.1 1076.7 67.2 1080.0 67.2C1083.3 67.3 1086.7 67.3 1090.0 67.4C1093.3 67.4 1096.7 67.5 1100.0 67.5C1103.3 67.5 1106.7 67.6 1110.0 67.6C1113.3 67.6 1116.7 67.7 1120.0 67.7C1123.3 67.7 1126.7 67.7 1130.0 67.7C1133.3 67.7 1136.7 67.8 1140.0 67.8C1143.3 67.8 1146.7 67.8 1150.0 67.8C1153.3 67.8 1156.7 67.8 1160.0 67.8C1163.3 67.8 1166.7 67.8 1170.0 67.8C1173.3 67.7 1176.7 67.7 1180.0 67.7C1183.3 67.7 1186.7 67.7 1190.0 67.7C1193.3 67.6 1196.7 67.6 1200.0 67.6C1203.3 67.5 1206.7 67.5 1210.0 67.5C1213.3 67.4 1216.7 67.4 1220.0 67.4C1223.3 67.3 1226.7 67.3 1230.0 67.2C1233.3 67.2 1236.7 67.2 1240.0 67.1C1243.3 67.1 1246.7 67.0 1250.0 67.0C1253.3 66.9 1256.7 66.8 1260.0 66.8C1263.3 66.7 1266.7 66.7 1270.0 66.6C1273.3 66.6 1276.7 66.5 1280.0 66.5C1283.3 66.4 1286.7 66.4 1290.0 66.3C1293.3 66.3 1296.7 66.2 1300.0 66.2C1303.3 66.1 1306.7 66.1 1310.0 66.1C1313.3 66.0 1316.7 66.0 1320.0 66.0C1323.3 66.0 1326.7 66.0 1330.0 66.0C1333.3 66.0 1336.7 66.0 1340.0 66.0C1343.3 66.0 1346.7 66.1 1350.0 66.1C1353.3 66.2 1356.7 66.2 1360.0 66.3C1363.3 66.3 1366.7 66.4 1370.0 66.5C1373.3 66.6 1376.7 66.7 1380.0 66.8C1383.3 67.0 1386.7 67.1 1390.0 67.3C1393.3 67.4 1396.7 67.6 1400.0 67.8C1403.3 68.0 1406.7 68.2 1410.0 68.4C1413.3 68.7 1416.7 68.9 1420.0 69.2C1423.3 69.5 1426.7 69.8 1430.0 70.1C1433.3 70.4 1436.7 70.7 1440.0 71.1C1443.3 71.5 1446.7 71.8 1450.0 72.3C1453.3 72.7 1456.7 73.1 1460.0 73.6C1463.3 74.0 1466.7 74.5 1470.0 75.0C1473.3 75.6 1476.7 76.1 1480.0 76.7C1483.3 77.3 1486.7 77.9 1490.0 78.5C1493.3 79.2 1496.7 79.8 1500.0 80.5C1503.3 81.2 1506.7 82.0 1510.0 82.7C1513.3 83.5 1516.7 84.3 1520.0 85.1C1523.3 86.0 1526.7 86.8 1530.0 87.8C1533.3 88.7 1536.7 89.6 1540.0 90.6C1543.3 91.6 1546.7 92.6 1550.0 93.6C1553.3 94.7 1556.7 95.8 1560.0 96.9C1563.3 98.1 1566.7 99.3 1570.0 100.5C1573.3 101.7 1576.7 103.0 1580.0 104.3C1583.3 105.6 1586.7 106.9 1590.0 108.3C1593.3 109.7 1596.7 111.1 1600.0 112.5C1603.3 114.0 1606.7 115.5 1610.0 117.1C1613.3 118.6 1616.7 120.2 1620.0 121.8C1623.3 123.5 1626.7 125.1 1630.0 126.9C1633.3 128.6 1636.7 130.4 1640.0 132.2C1643.3 134.0 1646.7 135.8 1650.0 137.7C1653.3 139.6 1656.7 141.6 1660.0 143.5C1663.3 145.5 1666.7 147.6 1670.0 149.6C1673.3 151.7 1676.7 153.8 1680.0 156.0C1683.3 158.2 1686.7 160.4 1690.0 162.7C1693.3 164.9 1696.7 167.2 1700.0 169.6C1703.3 171.9 1706.7 174.3 1710.0 176.8C1713.3 179.2 1716.7 181.7 1720.0 184.3C1723.3 186.8 1726.7 189.4 1730.0 192.1C1733.3 194.7 1736.7 197.4 1740.0 200.2C1743.3 202.9 1746.7 205.7 1750.0 208.5C1753.3 211.4 1756.7 214.3 1760.0 217.2C1763.3 220.2 1766.7 223.2 1770.0 226.2C1773.3 229.3 1776.7 232.4 1780.0 235.5C1783.3 238.6 1786.7 241.9 1790.0 245.1C1793.3 248.4 1796.7 251.7 1800.0 255.0C1803.3 258.4 1806.7 261.8 1810.0 265.2C1813.3 268.7 1816.7 272.2 1820.0 275.8C1823.3 279.3 1826.7 282.9 1830.0 286.6C1833.3 290.3 1836.7 294.0 1840.0 297.7C1843.3 301.5 1846.7 305.3 1850.0 309.1C1853.3 313.0 1856.7 316.9 1860.0 320.8C1863.3 324.7 1866.7 328.7 1870.0 332.7C1873.3 336.8 1876.7 340.8 1880.0 344.9C1883.3 349.1 1886.7 353.2 1890.0 357.4C1893.3 361.6 1896.7 365.8 1900.0 370.1C1903.3 374.3 1906.7 378.6 1910.0 383.0C1913.3 387.3 1916.7 391.7 1920.0 396.1C1923.3 400.5 1926.7 405.0 1930.0 409.4C1933.3 413.9 1936.7 418.4 1940.0 423.0C1943.3 427.5 1946.7 432.1 1950.0 436.7C1953.3 441.3 1956.7 446.0 1960.0 450.6C1963.3 455.3 1966.7 460.0 1970.0 464.7C1973.3 469.5 1976.7 474.2 1980.0 479.0C1983.3 483.8 1986.7 488.6 1990.0 493.4C1993.3 498.3 1996.7 503.1 2000.0 508.0C2003.3 512.9 2006.7 517.8 2010.0 522.7C2013.3 527.6 2016.7 532.6 2020.0 537.5C2023.3 542.5 2026.7 547.5 2030.0 552.5C2033.3 557.5 2036.7 562.6 2040.0 567.6C2043.3 572.6 2046.7 577.7 2050.0 582.8C2053.3 587.9 2056.7 593.0 2060.0 598.1C2063.3 603.2 2066.7 608.3 2070.0 613.5C2073.3 618.6 2076.7 623.8 2080.0 628.9C2083.3 634.1 2086.7 639.3 2090.0 644.4C2093.3 649.6 2096.7 654.8 2100.0 660.0C2103.3 665.2 2106.7 670.5 2110.0 675.7C2113.3 680.9 2116.7 686.1 2120.0 691.4C2123.3 696.6 2126.7 701.8 2130.0 707.1C2133.3 712.3 2136.7 717.6 2140.0 722.8C2143.3 728.1 2146.7 733.4 2150.0 738.6C2153.3 743.9 2156.7 749.1 2160.0 754.4C2163.3 759.7 2166.7 764.9 2170.0 770.2C2173.3 775.4 2178.9 784.2 2180.0 786.0C2180.2 786.3 2180.3 786.4 2180.4 786.6"/>
<path stroke="#77AC30" d="M254.2 879.6C254.7 886.4 255.4 891.5 255.8 900.0C256.5 914.1 256.5 937.7 257.0 956.6C257.5 975.4 258.2 992.2 258.7 1013.1C259.4 1039.0 259.8 1075.7 260.6 1100.0C261.2 1117.5 262.0 1129.3 262.6 1145.2C263.3 1163.0 263.8 1184.0 264.3 1201.8C264.8 1217.7 265.0 1231.3 265.5 1247.0C266.0 1264.0 266.7 1283.0 267.4 1300.0C268.0 1315.7 268.7 1330.1 269.4 1345.2C270.1 1360.3 270.9 1376.5 271.7 1390.5C272.4 1402.6 272.9 1413.6 273.9 1424.4C274.8 1434.3 275.9 1445.8 277.3 1452.7C278.2 1456.9 279.0 1462.3 280.2 1462.5C281.2 1462.6 282.6 1459.4 283.5 1457.0C285.0 1453.0 285.6 1446.3 286.4 1440.0C287.4 1432.1 287.8 1423.2 288.6 1413.1C289.6 1400.0 290.8 1381.9 292.0 1367.9C293.1 1355.8 294.3 1345.2 295.4 1333.9C296.4 1322.6 297.4 1312.6 298.3 1300.0C299.4 1284.3 300.0 1264.0 301.1 1247.0C302.1 1231.3 303.3 1217.7 304.5 1201.8C305.9 1184.0 307.5 1163.0 309.0 1145.2C310.3 1129.3 311.9 1114.8 313.0 1100.0C314.1 1085.9 315.0 1072.6 315.8 1058.4C316.7 1043.6 317.4 1029.0 318.1 1013.1C318.9 995.3 319.7 974.5 320.3 956.6C320.8 940.3 321.0 927.9 321.6 910.0C322.4 885.6 323.9 850.7 324.7 823.6C325.4 799.6 325.7 778.4 326.4 755.8C327.1 733.2 327.8 710.1 328.9 687.9C329.9 666.5 331.7 643.7 332.7 625.0C333.5 610.0 334.0 598.8 334.8 584.5C335.7 568.5 337.1 550.6 338.2 533.6C339.3 516.6 340.6 499.7 341.6 482.7C342.6 465.7 343.5 448.8 344.2 431.8C344.9 414.8 345.1 397.4 345.9 380.9C346.7 365.2 347.7 352.1 348.8 335.0C350.2 313.2 351.8 284.8 353.5 260.6C355.1 237.4 356.0 211.4 358.6 192.7C360.4 179.4 362.6 168.1 365.4 158.8C367.4 152.1 369.6 147.7 372.2 141.8C375.1 135.3 378.6 127.6 382.4 121.5C385.9 115.9 390.8 105.8 393.9 106.2C397.0 106.6 399.1 117.6 401.0 124.8C403.5 134.3 404.5 146.3 406.1 158.8C408.0 174.0 409.6 192.1 411.2 209.7C413.0 228.7 415.2 248.7 416.3 269.0C417.4 290.4 416.8 315.0 417.5 335.0C418.1 351.7 418.8 365.2 419.7 380.9C420.6 397.4 422.0 414.8 423.1 431.8C424.2 448.8 425.1 468.7 426.5 482.7C427.5 492.7 427.8 503.4 429.9 508.2C430.8 510.4 431.8 512.2 433.3 512.4C435.1 512.7 438.1 507.7 440.0 508.2C442.1 508.7 443.4 513.0 445.1 516.7C447.9 522.8 450.7 534.0 453.6 542.1C456.4 549.8 458.9 560.2 462.1 564.2C463.7 566.2 465.4 567.7 467.2 567.6C469.3 567.5 471.9 565.2 474.0 562.5C477.3 558.2 479.9 549.9 482.5 542.1C485.7 532.3 488.3 520.2 491.0 508.2C494.0 494.9 496.5 480.6 499.4 465.8C502.6 449.6 506.7 430.8 509.6 414.8C512.1 400.7 514.2 387.9 516.0 375.0C517.7 363.0 518.5 351.0 520.1 340.0C521.6 330.0 523.3 321.1 525.2 311.5C527.2 301.5 529.0 290.6 532.0 281.0C534.8 272.0 537.9 262.9 542.2 255.5C546.0 248.9 550.4 242.3 555.8 238.5C560.7 235.0 567.0 233.1 572.7 232.6C578.3 232.1 584.0 233.1 589.7 235.1C596.3 237.5 603.7 241.7 609.4 247.0C615.5 252.7 620.2 260.7 624.8 268.8C630.0 277.9 634.6 291.0 638.4 299.4C641.1 305.4 642.4 311.2 645.2 314.7C647.2 317.2 649.8 317.1 652.0 319.8C655.7 324.3 658.6 333.8 662.2 341.8C666.4 351.1 670.5 363.1 675.8 372.4C680.8 381.1 686.5 389.8 692.7 396.1C698.0 401.5 705.5 407.0 709.7 408.8C711.8 409.7 712.8 409.9 714.8 409.7C718.0 409.3 723.0 407.3 726.7 404.6C731.0 401.4 735.8 394.3 738.5 391.0C740.0 389.2 740.5 387.1 741.9 386.8C743.5 386.5 745.9 390.7 747.9 390.2C751.0 389.4 753.5 381.5 757.2 375.8C762.7 367.5 772.6 353.3 777.6 345.2C780.8 340.0 782.2 336.5 785.0 332.1C788.0 327.5 791.7 322.9 795.0 318.3C798.3 313.7 801.6 309.2 805.0 304.7C808.3 300.3 811.6 295.9 815.0 291.6C818.3 287.3 821.6 283.1 825.0 279.0C828.3 275.0 831.6 271.0 835.0 267.1C838.3 263.3 841.6 259.5 845.0 255.9C848.3 252.3 851.6 248.7 855.0 245.3C858.3 241.9 861.6 238.6 865.0 235.3C868.3 232.1 871.6 228.9 875.0 225.9C878.3 222.8 881.6 219.9 885.0 217.0C888.3 214.1 891.6 211.3 895.0 208.5C898.3 205.8 901.6 203.2 905.0 200.6C908.3 198.0 911.6 195.5 915.0 193.0C918.3 190.6 921.6 188.2 925.0 185.9C928.3 183.7 931.6 181.5 935.0 179.4C938.3 177.3 941.6 175.2 945.0 173.3C948.3 171.4 951.6 169.5 955.0 167.7C958.3 166.0 961.7 164.3 965.0 162.7C968.3 161.1 971.7 159.6 975.0 158.2C978.3 156.8 981.7 155.4 985.0 154.1C988.3 152.8 991.7 151.5 995.0 150.3C998.3 149.1 1001.7 148.0 1005.0 146.9C1008.3 145.8 1011.7 144.8 1015.0 143.8C1018.3 142.8 1021.7 141.9 1025.0 141.0C1028.3 140.1 1031.7 139.3 1035.0 138.6C1038.3 137.8 1041.7 137.1 1045.0 136.4C1048.3 135.8 1051.7 135.2 1055.0 134.6C1058.3 134.1 1061.7 133.6 1065.0 133.2C1068.3 132.8 1071.7 132.4 1075.0 132.0C1078.3 131.7 1081.7 131.4 1085.0 131.2C1088.3 130.9 1091.7 130.7 1095.0 130.5C1098.3 130.4 1101.7 130.2 1105.0 130.1C1108.3 130.0 1111.7 129.9 1115.0 129.9C1118.3 129.9 1121.7 129.9 1125.0 129.9C1128.3 129.9 1131.7 129.9 1135.0 130.0C1138.3 130.0 1141.7 130.1 1145.0 130.2C1148.3 130.3 1151.7 130.4 1155.0 130.6C1158.3 130.7 1161.7 130.8 1165.0 131.0C1168.3 131.1 1171.7 131.3 1175.0 131.4C1178.3 131.6 1181.7 131.7 1185.0 131.9C1188.3 132.1 1191.7 132.2 1195.0 132.4C1198.3 132.5 1201.7 132.7 1205.0 132.8C1208.3 133.0 1211.7 133.1 1215.0 133.2C1218.3 133.4 1221.7 133.5 1225.0 133.6C1228.3 133.7 1231.7 133.9 1235.0 134.0C1238.3 134.1 1241.7 134.2 1245.0 134.3C1248.3 134.4 1251.7 134.5 1255.0 134.6C1258.3 134.7 1261.7 134.8 1265.0 134.9C1268.3 135.0 1271.7 135.1 1275.0 135.2C1278.3 135.3 1281.7 135.4 1285.0 135.5C1288.3 135.6 1291.7 135.6 1295.0 135.7C1298.3 135.8 1301.7 135.9 1305.0 136.0C1308.3 136.1 1311.7 136.2 1315.0 136.3C1318.3 136.4 1321.7 136.5 1325.0 136.6C1328.3 136.7 1331.7 136.8 1335.0 136.9C1338.3 137.0 1341.7 137.1 1345.0 137.2C1348.3 137.3 1351.7 137.5 1355.0 137.6C1358.3 137.7 1361.7 137.8 1365.0 138.0C1368.3 138.1 1371.7 138.2 1375.0 138.4C1378.3 138.5 1381.7 138.7 1385.0 138.8C1388.3 139.0 1391.7 139.2 1395.0 139.3C1398.3 139.5 1401.7 139.7 1405.0 139.9C1408.3 140.1 1411.7 140.3 1415.0 140.5C1418.3 140.7 1421.7 140.9 1425.0 141.1C1428.3 141.3 1431.7 141.6 1435.0 141.8C1438.3 142.1 1441.7 142.3 1445.0 142.6C1448.3 142.9 1451.7 143.2 1455.0 143.5C1458.3 143.7 1461.7 144.1 1465.0 144.4C1468.3 144.7 1471.7 145.0 1475.0 145.4C1478.3 145.7 1481.7 146.1 1485.0 146.4C1488.3 146.8 1491.7 147.2 1495.0 147.6C1498.3 148.0 1501.7 148.4 1505.0 148.9C1508.3 149.3 1511.7 149.7 1515.0 150.2C1518.3 150.7 1521.7 151.2 1525.0 151.7C1528.3 152.2 1531.7 152.7 1535.0 153.2C1538.3 153.8 1541.7 154.3 1545.0 154.9C1548.3 155.5 1551.7 156.1 1555.0 156.7C1558.3 157.3 1561.7 158.0 1565.0 158.6C1568.3 159.3 1571.7 160.0 1575.0 160.7C1578.3 161.4 1581.7 162.1 1585.0 162.9C1588.3 163.6 1591.7 164.4 1595.0 165.2C1598.3 166.0 1601.7 166.9 1605.0 167.7C1608.3 168.6 1611.7 169.5 1615.0 170.4C1618.3 171.3 1621.7 172.2 1625.0 173.2C1628.3 174.1 1631.7 175.1 1635.0 176.1C1638.3 177.2 1641.7 178.2 1645.0 179.3C1648.3 180.4 1651.7 181.5 1655.0 182.6C1658.3 183.8 1661.7 184.9 1665.0 186.1C1668.3 187.4 1671.7 188.6 1675.0 189.9C1678.3 191.1 1681.7 192.4 1685.0 193.8C1688.3 195.1 1691.7 196.5 1695.0 197.9C1698.3 199.3 1701.7 200.7 1705.0 202.2C1708.3 203.7 1711.7 205.2 1715.0 206.7C1718.3 208.3 1721.7 209.9 1725.0 211.5C1728.3 213.1 1731.7 214.8 1735.0 216.5C1738.3 218.2 1741.7 219.9 1745.0 221.7C1748.3 223.5 1751.7 225.3 1755.0 227.2C1758.3 229.0 1761.7 230.9 1765.0 232.9C1768.3 234.8 1771.7 236.8 1775.0 238.8C1778.3 240.8 1781.7 242.9 1785.0 245.0C1788.3 247.1 1791.7 249.2 1795.0 251.4C1798.3 253.5 1801.7 255.8 1805.0 258.0C1808.3 260.2 1811.7 262.5 1815.0 264.8C1818.3 267.1 1821.7 269.5 1825.0 271.8C1828.3 274.2 1831.7 276.6 1835.0 279.1C1838.3 281.5 1841.7 284.0 1845.0 286.5C1848.3 289.0 1851.7 291.5 1855.0 294.1C1858.3 296.7 1861.7 299.3 1865.0 301.9C1868.3 304.6 1871.7 307.3 1875.0 310.0C1878.3 312.7 1881.7 315.5 1885.0 318.3C1888.3 321.2 1891.7 324.1 1895.0 327.0C1898.3 330.0 1901.7 333.0 1905.0 336.0C1908.3 339.1 1911.7 342.3 1915.0 345.5C1918.3 348.7 1921.7 351.9 1925.0 355.2C1928.3 358.5 1931.7 361.9 1935.0 365.3C1938.3 368.7 1941.7 372.2 1945.0 375.7C1948.3 379.3 1951.7 382.8 1955.0 386.5C1958.3 390.1 1961.7 393.8 1965.0 397.5C1968.3 401.2 1971.7 405.0 1975.0 408.7C1978.3 412.6 1981.7 416.4 1985.0 420.3C1988.3 424.2 1991.7 428.1 1995.0 432.1C1998.3 436.0 2001.7 440.0 2005.0 444.0C2008.3 448.1 2011.7 452.1 2015.0 456.2C2018.3 460.3 2021.7 464.5 2025.0 468.6C2028.3 472.8 2031.7 477.0 2035.0 481.2C2038.3 485.4 2041.7 489.6 2045.0 493.8C2048.3 498.1 2051.7 502.4 2055.0 506.7C2058.3 511.0 2061.7 515.3 2065.0 519.6C2068.3 524.0 2071.7 528.3 2075.0 532.7C2078.3 537.0 2081.7 541.4 2085.0 545.8C2088.3 550.2 2091.7 554.6 2095.0 559.0C2098.3 563.4 2101.7 567.8 2105.0 572.2C2108.3 576.6 2111.7 581.1 2115.0 585.5C2118.3 589.9 2121.7 594.3 2125.0 598.8C2128.3 603.2 2131.7 607.6 2135.0 612.0C2138.3 616.5 2141.7 620.9 2145.0 625.3C2148.3 629.7 2151.7 634.1 2155.0 638.5C2158.3 642.9 2161.7 647.3 2165.0 651.7C2168.3 656.1 2172.2 661.1 2175.0 664.8C2177.1 667.5 2178.6 669.5 2180.4 671.8"/>
</g>
<rect x="1539.5" y="1187.0" width="417.0" height="450.2" fill="#ffffff" stroke="#262626" stroke-width="2"/>
<g font-family="'Liberation Sans', Arial, Helvetica, sans-serif" font-size="65" fill="#000000">
<line x1="1553.1" y1="1236.7" x2="1656.8" y2="1236.7" stroke="#0072BD" stroke-width="9"/>
<text x="1666.5" y="1260.7">a=0nm</text>
<line x1="1553.1" y1="1324.3" x2="1656.8" y2="1324.3" stroke="#D95319" stroke-width="9"/>
<text x="1666.5" y="1348.3">a=50nm</text>
<line x1="1553.1" y1="1412.1" x2="1656.8" y2="1412.1" stroke="#EDB120" stroke-width="9"/>
<text x="1666.5" y="1436.1">a=100nm</text>
<line x1="1553.1" y1="1500.0" x2="1656.8" y2="1500.0" stroke="#7E2F8E" stroke-width="9"/>
<text x="1666.5" y="1524.0">a=150nm</text>
<line x1="1553.1" y1="1587.5" x2="1656.8" y2="1587.5" stroke="#77AC30" stroke-width="9"/>
<text x="1666.5" y="1611.5">a=200nm</text>
</g>
</svg></body></html>
